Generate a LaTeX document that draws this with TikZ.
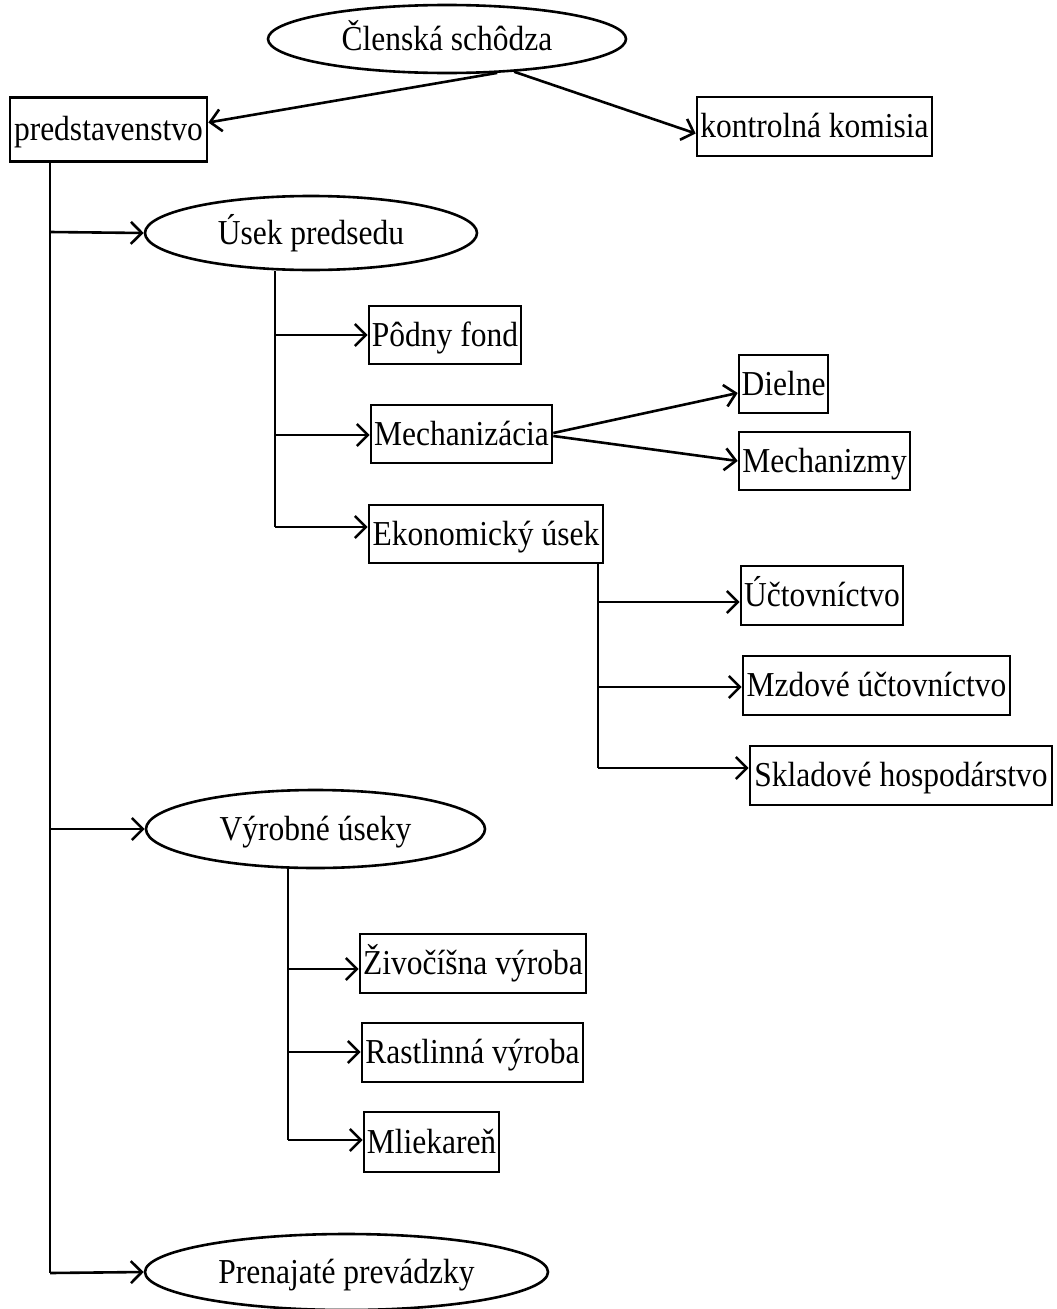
\documentclass[tikz,border=0pt]{standalone}
\usepackage{fontspec}
\setmainfont[FakeStretch=0.9]{Liberation Serif}
\usetikzlibrary{arrows.meta,shapes.geometric}
\begin{document}
\begin{tikzpicture}[x=1pt,y=-1pt,
  line width=2.6pt,
  every node/.style={font=\fontsize{35}{40}\selectfont, inner sep=0pt, text height=24pt, text depth=2pt},
  bx/.style={draw, rectangle, minimum height=58pt},
  el/.style={draw, ellipse},
  arr/.style={-{Straight Barb[length=11pt,width=22pt,line width=2.6pt]}}]
\useasboundingbox (0,0) rectangle (1057,1309);
% nodes
\node[el, minimum width=358pt, minimum height=68pt] (cs) at (447,39) {Členská schôdza};
\node[bx, minimum width=197pt, minimum height=64pt] (pred) at (108.5,129.5) {predstavenstvo};
\node[bx, minimum width=235pt, minimum height=59pt] (kk) at (814.5,126.5) {kontrolná komisia};
\node[el, minimum width=332pt, minimum height=74pt] (up) at (311,233) {Úsek predsedu};
\node[bx, minimum width=152pt] (pf) at (445,335) {Pôdny fond};
\node[bx, minimum width=181pt] (mech) at (461.5,434) {Mechanizácia};
\node[bx, minimum width=234pt] (eko) at (486,534) {Ekonomický úsek};
\node[bx, minimum width=89pt] (diel) at (783.5,384) {Dielne};
\node[bx, minimum width=171pt] (mzmy) at (824.5,461) {Mechanizmy};
\node[bx, minimum width=162pt, minimum height=59pt] (uct) at (822,595.5) {Účtovníctvo};
\node[bx, minimum width=267pt, minimum height=59pt] (mzd) at (876.5,685.5) {Mzdové účtovníctvo};
\node[bx, minimum width=302pt, minimum height=59pt] (skl) at (901,775.5) {Skladové hospodárstvo};
\node[el, minimum width=339pt, minimum height=78pt] (vu) at (315.5,829) {Výrobné úseky};
\node[bx, minimum width=226pt, minimum height=59pt] (ziv) at (473,963.5) {Živočíšna výroba};
\node[bx, minimum width=221pt, minimum height=59pt] (ras) at (472.5,1052.5) {Rastlinná výroba};
\node[bx, minimum width=135pt, minimum height=60pt] (mlie) at (431.5,1142) {Mliekareň};
\node[el, minimum width=403pt, minimum height=76pt] (pp) at (346.5,1272) {Prenajaté prevádzky};
% junction coordinates
\coordinate (t0) at (50,160);
\coordinate (j1) at (50,232);
\coordinate (j2) at (50,829);
\coordinate (j3) at (50,1273);
\coordinate (k0) at (275,270);
\coordinate (k1) at (275,335);
\coordinate (k2) at (275,435);
\coordinate (k3) at (275,527);
\coordinate (m0) at (598,563);
\coordinate (m1) at (598,602);
\coordinate (m2) at (598,687);
\coordinate (m3) at (598,768);
\coordinate (n0) at (288,868);
\coordinate (n1) at (288,969);
\coordinate (n2) at (288,1052);
\coordinate (n3) at (288,1140);
% top connectors
\draw[arr] (cs.-34) -- ([yshift=7pt]pred.east);
\draw[arr] (cs.-26) -- ([yshift=-7pt]kk.west);
% main trunk
\draw (pred.south -| t0) -- (j3);
\draw[arr] (j1) -- (up.west);
\draw[arr] (j2) -- (vu.west);
\draw[arr] (j3) -- (pp.west);
% Úsek predsedu branch
\draw (up.south -| k0) -- (k3);
\draw[arr] (k1) -- (k1 -| pf.west);
\draw[arr] (k2) -- (k2 -| mech.west);
\draw[arr] (k3) -- (k3 -| eko.west);
\draw[arr] ([yshift=1pt]mech.east) -- ([yshift=-9pt]diel.west);
\draw[arr] ([yshift=-2pt]mech.east) -- (mzmy.west);
% Ekonomický úsek branch
\draw (eko.south -| m0) -- (m3);
\draw[arr] (m1) -- (m1 -| uct.west);
\draw[arr] (m2) -- (m2 -| mzd.west);
\draw[arr] (m3) -- (m3 -| skl.west);
% Výrobné úseky branch
\draw (vu.south -| n0) -- (n3);
\draw[arr] (n1) -- (n1 -| ziv.west);
\draw[arr] (n2) -- (n2 -| ras.west);
\draw[arr] (n3) -- (n3 -| mlie.west);
\end{tikzpicture}
\end{document}
